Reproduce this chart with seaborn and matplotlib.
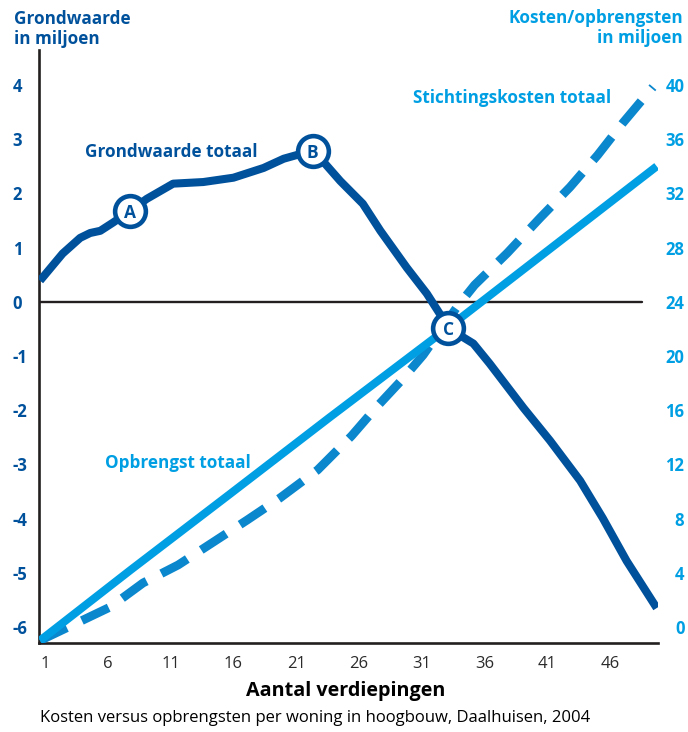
import matplotlib
matplotlib.use("Agg")
import matplotlib.pyplot as plt
import seaborn as sns

# ---------------- data ----------------
floors_gw = [0.6, 2.4, 3.8, 4.6, 5.4, 6.4, 7.8, 9.1, 11.2, 13.6, 16.0, 18.4, 20.0,
             22.3, 23.1, 24.5, 26.3, 27.7, 29.8, 31.4, 33.2, 35.1, 36.4, 39.1,
             41.2, 43.6, 45.4, 47.3, 49.7]
grondwaarde = [0.39, 0.89, 1.18, 1.27, 1.31, 1.46, 1.68, 1.90, 2.18, 2.21, 2.29, 2.47,
               2.64, 2.79, 2.60, 2.23, 1.81, 1.31, 0.63, 0.15, -0.50, -0.77, -1.14,
               -1.96, -2.56, -3.30, -3.99, -4.78, -5.65]

floors_sk = [0.6, 3.2, 6.2, 8.8, 11.6, 14.4, 17.1, 19.7, 22.7, 25.4, 27.4, 29.4,
             31.1, 33.8, 35.2, 37.8, 40.4, 42.8, 45.0, 47.0, 49.4]
stichtingskosten = [-1.0, 0.15, 1.48, 3.25, 4.58, 6.27, 7.90, 9.52, 11.59, 14.1,
                    16.24, 18.23, 20.07, 23.62, 25.24, 27.6, 30.18, 32.47, 34.83,
                    37.2, 39.85]

floors_ob = [0.6, 7.8, 15.7, 23.7, 33.1, 49.7]
opbrengst = [-1.0, 4.2, 9.8, 15.5, 22.1, 34.0]

marker_labels = ["A", "B", "C"]
marker_floors = [7.8, 22.3, 33.1]
marker_values = [1.68, 2.79, -0.48]

x_ticks = [1, 6, 11, 16, 21, 26, 31, 36, 41, 46]
left_ticks = [-6, -5, -4, -3, -2, -1, 0, 1, 2, 3, 4]
right_ticks = [0, 4, 8, 12, 16, 20, 24, 28, 32, 36, 40]

# ---------------- style ----------------
DARK = "#00519c"
LIGHT = "#009fe3"
MID = "#0a87cd"
INK = "#231f20"

sns.set_theme(style="white")
plt.rcParams["font.family"] = ["Open Sans", "DejaVu Sans"]

W, H = 688, 732
fig = plt.figure(figsize=(W / 100, H / 100), dpi=100)
L, R, T, B = 39, 658, 50, 643
ax = fig.add_axes([L / W, 1 - B / H, (R - L) / W, (B - T) / H])
ax2 = ax.twinx()
ax3 = fig.add_axes(ax.get_position(), sharex=ax, sharey=ax)
ax3.axis("off")
ax3.patch.set_visible(False)

ylo, yhi = -6.295, 4.646
ax.set_xlim(0.52, 49.8)
ax.set_ylim(ylo, yhi)
ax2.set_ylim((ylo + 6) * 4, (yhi + 6) * 4)

# zero line
ax.axhline(0, xmin=0, xmax=(642 - L) / (R - L), color=INK, lw=1.7, zorder=0)

# cost / revenue lines (right axis)
sns.lineplot(x=floors_sk, y=stichtingskosten, ax=ax2, color=MID, lw=6.3,
             linestyle=(0, (3.4, 1.9)), dash_capstyle="butt", dash_joinstyle="round")
sns.lineplot(x=floors_ob, y=opbrengst, ax=ax2, color=LIGHT, lw=5.8,
             solid_capstyle="butt", solid_joinstyle="round")

# land value line (left axis, drawn on overlay)
sns.lineplot(x=floors_gw, y=grondwaarde, ax=ax3, color=DARK, lw=5.8,
             solid_capstyle="butt", solid_joinstyle="round")
sns.scatterplot(x=marker_floors, y=marker_values, ax=ax3, s=490, color="white",
                edgecolor=DARK, linewidth=3.3, zorder=5)
for lab, xx, yy in zip(marker_labels, marker_floors, marker_values):
    ax3.text(xx, yy, lab, ha="center", va="center_baseline", color=DARK,
             fontsize=12.5, fontweight="bold", zorder=6)
ax3.set_xlabel("")
ax3.set_ylabel("")

# spines
for s in ["top", "right"]:
    ax.spines[s].set_visible(False)
for s in ax2.spines.values():
    s.set_visible(False)
ax.spines["left"].set_color(INK)
ax.spines["left"].set_linewidth(1.9)
ax.spines["bottom"].set_color(INK)
ax.spines["bottom"].set_linewidth(1.9)

# ticks
ax.set_xticks(x_ticks)
ax.set_xticklabels([str(v) for v in x_ticks])
ax.tick_params(axis="x", length=0, pad=9, labelsize=12, labelcolor="#2b2b2b")
ax.set_yticks(left_ticks)
ax.set_yticklabels([str(v) for v in left_ticks])
ax.tick_params(axis="y", length=0, pad=19, labelsize=12, labelcolor=DARK)
for t in ax.get_yticklabels():
    t.set_ha("left")
    t.set_fontweight("bold")
ax2.set_yticks(right_ticks)
ax2.set_yticklabels([str(v) for v in right_ticks])
ax2.tick_params(axis="y", length=0, pad=19, labelsize=12, labelcolor=LIGHT)
for t in ax2.get_yticklabels():
    t.set_ha("right")
    t.set_fontweight("bold")
ax.set_xlabel("")
ax.set_ylabel("")
ax2.set_ylabel("")


def fx(px):
    return px / W


def fy(py):
    return 1 - py / H


# axis titles
fig.text(fx(14), fy(29), "Grondwaarde\nin miljoen", ha="left", va="center",
         color=DARK, fontsize=12.3, fontweight="bold", linespacing=1.2)
fig.text(fx(683), fy(28), "Kosten/opbrengsten\nin miljoen", ha="right", va="center",
         color=LIGHT, fontsize=12.3, fontweight="bold", linespacing=1.2,
         multialignment="right")

# series labels
fig.text(fx(171), fy(152), "Grondwaarde totaal", ha="center", va="center",
         color=DARK, fontsize=12.3, fontweight="bold")
fig.text(fx(512), fy(98), "Stichtingskosten totaal", ha="center", va="center",
         color=LIGHT, fontsize=12.3, fontweight="bold")
fig.text(fx(178), fy(463), "Opbrengst totaal", ha="center", va="center",
         color=LIGHT, fontsize=12.3, fontweight="bold")

# x label and caption
fig.text(fx(346), fy(691), "Aantal verdiepingen", ha="center", va="center",
         color="black", fontsize=14.2, fontweight="bold")
fig.text(fx(40), fy(718), "Kosten versus opbrengsten per woning in hoogbouw, Daalhuisen, 2004",
         ha="left", va="center", color="black", fontsize=12)

fig.savefig("out.png", dpi=100)
